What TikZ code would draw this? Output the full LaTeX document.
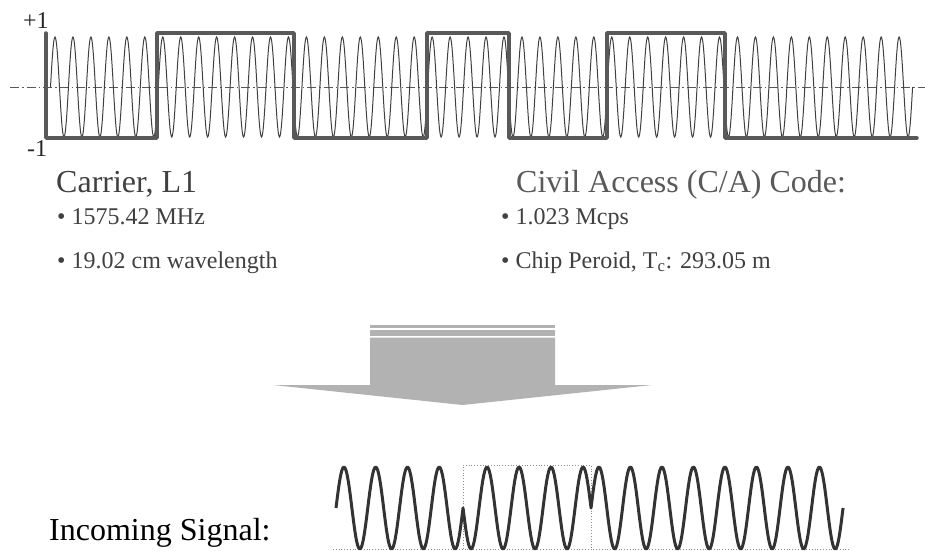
\documentclass[tikz,border=0pt]{standalone}
\usepackage{fontspec}
\setmainfont{Liberation Serif}
\usetikzlibrary{positioning}
\definecolor{codegray}{RGB}{89,89,89}
\definecolor{wavegray}{RGB}{64,64,64}
\definecolor{arrowgray}{RGB}{178,178,178}
\definecolor{dotgray}{RGB}{140,140,140}

\begin{document}
\begin{tikzpicture}[
    x=1pt, y=-1pt,
    carrier/.style={draw=wavegray, line width=1pt},
    code/.style={draw=codegray, line width=3.5pt, line join=round, line cap=round},
    axis/.style={draw=codegray, line width=0.8pt, dash pattern=on 9pt off 3pt on 1.5pt off 3pt},
    incoming/.style={draw=black!80, line width=3pt, line join=round},
    chipbox/.style={draw=dotgray, line width=0.8pt, dotted},
    heading/.style={font=\fontsize{32}{36}\selectfont, text=wavegray, inner sep=0pt, anchor=base west},
    bullet/.style={font=\fontsize{24}{28}\selectfont, text=wavegray, inner sep=0pt, anchor=base west},
    level/.style={font=\fontsize{24}{28}\selectfont, text=black!85, inner sep=0pt, anchor=base west}
]
\useasboundingbox (0,0) rectangle (925,550);

% carrier with the C/A code on top
\draw[axis] (10,87) -- (925,87);
\draw[carrier] (50.5,87) \foreach \k in {1,...,48} {
    sin ++(4.49,-50) cos ++(4.49,50) sin ++(4.49,50) cos ++(4.49,-50)};
\draw[code] (46,33) -- (46,138) -- (157,138) -- (157,33) -- (294,33) -- (294,138)
    -- (427,138) -- (427,33) -- (509,33) -- (509,138) -- (607,138) -- (607,33)
    -- (725,33) -- (725,138) -- (917,138);
\node[level] (plus) at (23,28) {+1};
\node[level] (minus) at (27,156) {-1};

% texts
\node[heading] (carrierhd) at (56,192) {Carrier, L1};
\node[bullet] (freq) at (57,224) {• 1575.42 MHz};
\node[bullet] (wavelen) at (57,268) {• 19.02 cm wavelength};
\node[heading, text=codegray] (codehd) at (516,192) {Civil Access (C/A) Code:};
\node[bullet] (rate) at (501,224) {• 1.023 Mcps};
\node[bullet] (chip) at (501,268) {• Chip Peroid, T\textsubscript{c}: 293.05 m};

% block arrow
\fill[arrowgray] (370,325) rectangle (555,328);
\fill[arrowgray] (370,330) rectangle (555,336);
\fill[arrowgray] (370,337.5) -- (555,337.5) -- (555,385) -- (652,385)
    -- (462.5,405) -- (273,385) -- (370,385) -- cycle;

% incoming signal
\node[heading, text=black] (incominghd) at (49,540) {Incoming Signal:};
\draw[chipbox] (333,549) -- (850,549);
\draw[chipbox] (463,549) -- (463,465) -- (591,465) -- (591,549);
\draw[incoming] (336,508)
    \foreach \k in {1,...,4} {sin ++(7.94,-41) cos ++(7.94,41) sin ++(7.94,41) cos ++(7.94,-41)}
    \foreach \k in {1,...,4} {sin ++(8,41) cos ++(8,-41) sin ++(8,-41) cos ++(8,41)}
    \foreach \k in {1,...,8} {sin ++(7.875,-41) cos ++(7.875,41) sin ++(7.875,41) cos ++(7.875,-41)};
\end{tikzpicture}
\end{document}
